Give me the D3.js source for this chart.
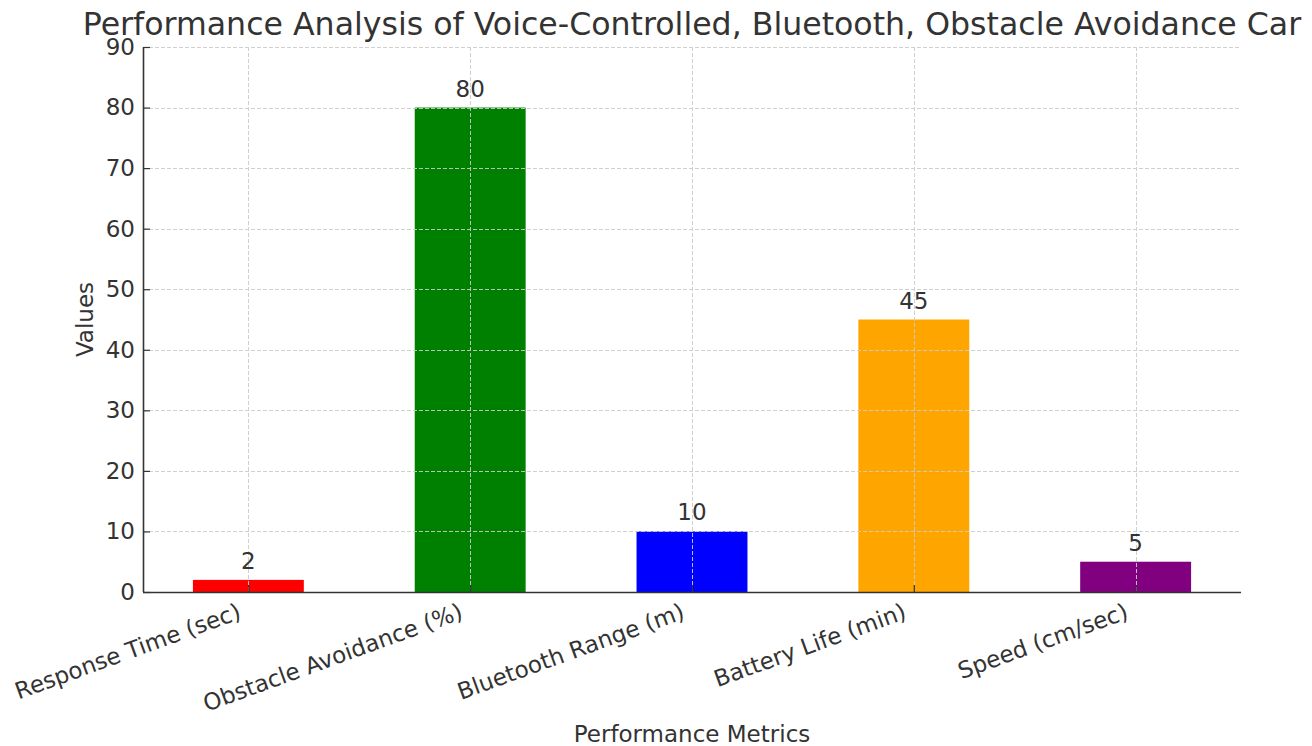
<!DOCTYPE html>
<html>
<head>
<meta charset="utf-8">
<script src="https://cdn.jsdelivr.net/npm/d3@7"></script>
<style>
  html, body { margin: 0; padding: 0; background: #fff; }
  svg { display: block; font-family: "DejaVu Sans", sans-serif; }
</style>
</head>
<body>
<svg id="chart" width="1312" height="746"></svg>
<script>
const categories = ["Response Time (sec)", "Obstacle Avoidance (%)", "Bluetooth Range (m)", "Battery Life (min)", "Speed (cm/sec)"];
const values = [2, 80, 10, 45, 5];
const barColors = ["red", "green", "blue", "orange", "purple"];
const yTicks = [0, 10, 20, 30, 40, 50, 60, 70, 80, 90];
const titleText = "Performance Analysis of Voice-Controlled, Bluetooth, Obstacle Avoidance Car";
const xLabelText = "Performance Metrics";
const yLabelText = "Values";

const svg = d3.select("#chart");
const L = 143, R = 1241, T = 47, B = 592;
const textColor = "#333333";

const x = d3.scaleLinear().domain([-0.475, categories.length - 1 + 0.475]).range([L, R]);
const y = d3.scaleLinear().domain([0, 90]).range([B, T]);
const barW = x(0.5) - x(0);

// bars
svg.append("g").selectAll("rect").data(values).join("rect")
  .attr("x", (d, i) => x(i) - barW / 2)
  .attr("y", d => y(d))
  .attr("width", barW)
  .attr("height", d => y(0) - y(d))
  .attr("fill", (d, i) => barColors[i]);

// grid (on top of bars)
const grid = svg.append("g").attr("stroke", "#cccccc").attr("stroke-width", 1).attr("stroke-dasharray", "4,2").attr("opacity", 0.9);
grid.selectAll("line.h").data(yTicks).join("line").attr("class", "h")
  .attr("x1", L).attr("x2", R)
  .attr("y1", d => Math.round(y(d)) + 0.5).attr("y2", d => Math.round(y(d)) + 0.5);
grid.selectAll("line.v").data(categories).join("line").attr("class", "v")
  .attr("x1", (d, i) => Math.round(x(i)) + 0.5).attr("x2", (d, i) => Math.round(x(i)) + 0.5)
  .attr("y1", T).attr("y2", B);

// y axis
const yAxis = d3.axisLeft(y).tickValues(yTicks).tickSize(-7).tickPadding(8);
const gy = svg.append("g").attr("transform", `translate(${L},0)`).call(yAxis);
gy.select(".domain").attr("stroke", "#333").attr("stroke-width", 1.6).attr("d", `M0.5,${T}V${B}`);
gy.selectAll(".tick line").attr("stroke", "#333").attr("stroke-width", 1.2);
gy.selectAll(".tick text").attr("fill", textColor).attr("font-size", 23).attr("font-family", "DejaVu Sans");

// x axis
const xAxis = d3.axisBottom(x).tickValues(d3.range(categories.length)).tickSize(-7).tickFormat("");
const gx = svg.append("g").attr("transform", `translate(0,${B})`).call(xAxis);
gx.select(".domain").attr("stroke", "#333").attr("stroke-width", 1.6).attr("d", `M${L},0.5H${R}`);
gx.selectAll(".tick line").attr("stroke", "#333").attr("stroke-width", 1.2);

// rotated x tick labels
svg.append("g").selectAll("text").data(categories).join("text")
  .attr("transform", (d, i) => `translate(${x(i) - 6},618) rotate(-20)`)
  .attr("text-anchor", "end")
  .attr("font-size", 23)
  .attr("fill", textColor)
  .text(d => d);

// value labels
svg.append("g").selectAll("text").data(values).join("text")
  .attr("x", (d, i) => x(i))
  .attr("y", d => y(d) - 11)
  .attr("text-anchor", "middle")
  .attr("font-size", 23)
  .attr("fill", textColor)
  .text(d => d);

// title
svg.append("text")
  .attr("x", (L + R) / 2).attr("y", 35)
  .attr("text-anchor", "middle")
  .attr("font-size", 31.6)
  .attr("fill", textColor)
  .text(titleText);

// axis labels
svg.append("text")
  .attr("x", (L + R) / 2).attr("y", 742)
  .attr("text-anchor", "middle")
  .attr("font-size", 23)
  .attr("fill", textColor)
  .text(xLabelText);

svg.append("text")
  .attr("transform", `translate(93,${(T + B) / 2}) rotate(-90)`)
  .attr("text-anchor", "middle")
  .attr("font-size", 23)
  .attr("fill", textColor)
  .text(yLabelText);
</script>
</body>
</html>
